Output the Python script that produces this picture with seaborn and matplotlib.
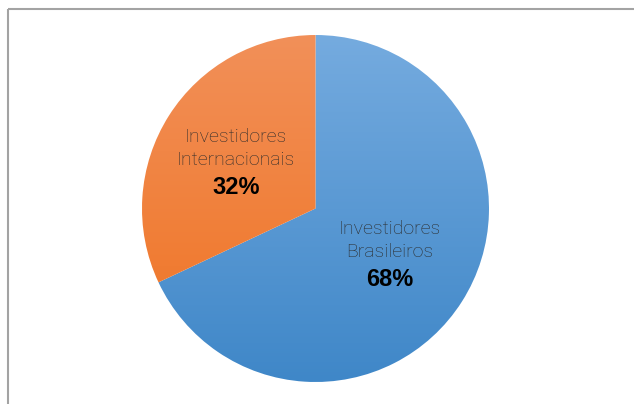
import numpy as np
import matplotlib
matplotlib.use("Agg")
import matplotlib.pyplot as plt
from matplotlib.colors import LinearSegmentedColormap
import seaborn as sns

sns.set_theme(style="white")
plt.rcParams["font.family"] = ["Roboto", "DejaVu Sans"]

# Investor share data
label_lines = [["Investidores", "Brasileiros"], ["Investidores", "Internacionais"]]
shares = [68, 32]
top_colors = ["#75abdf", "#f29059"]
bottom_colors = ["#3f87c8", "#ef7220"]

W, H = 634, 404
fig = plt.figure(figsize=(W / 100, H / 100), dpi=100)
ax = fig.add_axes([0, 0, 1, 1])

cx, cy, r = 315.5, H - 208.5, 173.5
wedges, _ = ax.pie(shares, startangle=90, counterclock=False, center=(cx, cy),
                   radius=r, colors=top_colors, frame=True,
                   wedgeprops=dict(linewidth=0))

# Vertical gradient fill clipped to each wedge
grad = np.linspace(0, 1, 256).reshape(-1, 1)
for w, top, bot in zip(wedges, top_colors, bottom_colors):
    cmap = LinearSegmentedColormap.from_list("g", [bot, top])
    im = ax.imshow(grad, extent=[cx - r, cx + r, cy - r, cy + r], origin="lower",
                   cmap=cmap, aspect="auto", zorder=2, interpolation="bilinear")
    im.set_clip_path(w)
    w.set_facecolor("none")

ax.set_xlim(0, W)
ax.set_ylim(0, H)
ax.set_aspect("equal")
ax.axis("off")

# Slice labels
label_pos = [(390, 229), (236, 137)]
for lines, v, (px, py) in zip(label_lines, shares, label_pos):
    for i, t in enumerate(lines):
        ax.text(px, H - (py + 23 * i), t, ha="center", va="center", fontsize=14,
                fontweight="light", color="#2b2b2b", zorder=5)
    ax.text(px, H - (py + 50), f"{v}%", ha="center", va="center", fontsize=17,
            fontweight="bold", family="Liberation Sans", color="black", zorder=5)

# Chart area frame (top and left edges)
ax.plot([8, W], [H - 9, H - 9], color="#a3a3a3", lw=1.5, zorder=6, solid_capstyle="butt")
ax.plot([8, 8], [H - 9, 0], color="#a3a3a3", lw=1.5, zorder=6, solid_capstyle="butt")

fig.savefig("out.png", dpi=100)
